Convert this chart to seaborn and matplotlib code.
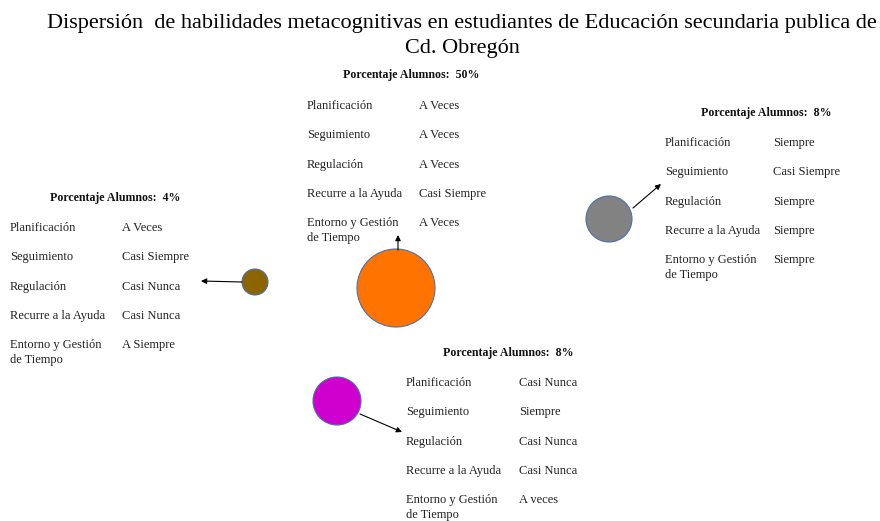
import pandas as pd
import seaborn as sns
import matplotlib.pyplot as plt

# data
CATEGORIES = ["Planificación", "Seguimiento", "Regulación",
              "Recurre a la Ayuda", "Entorno y Gestión\nde Tiempo"]
GROUPS = ["g4", "g50", "g8a", "g8b"]
PERCENT = [4, 50, 8, 8]
ANSWERS_G4 = ["A Veces", "Casi Siempre", "Casi Nunca", "Casi Nunca", "A Siempre"]
ANSWERS_G50 = ["A Veces", "A Veces", "A Veces", "Casi Siempre", "A Veces"]
ANSWERS_G8A = ["Siempre", "Casi Siempre", "Siempre", "Siempre", "Siempre"]
ANSWERS_G8B = ["Casi Nunca", "Siempre", "Casi Nunca", "Casi Nunca", "A veces"]
TITLE = "Dispersión  de habilidades metacognitivas en estudiantes de Educación secundaria publica de\nCd. Obregón"

# layout (pixel coords, y downward)
CIRCLE_POS = {"g4": (255, 282), "g50": (396, 288), "g8a": (609, 219), "g8b": (337, 401)}
CIRCLE_R = {"g4": 13, "g50": 39, "g8a": 23, "g8b": 24}
COLORS = {"g4": "#8a6500", "g50": "#ff7300", "g8a": "#828282", "g8b": "#cf00cf"}
# header center x, header y, label x, value x, first row y
BLOCKS = {"g4": (115, 198, 10, 122, 227), "g50": (411, 75, 307, 419, 105),
          "g8a": (766, 113, 665, 773, 142), "g8b": (508, 353, 406, 519, 382)}
ARROWS = {"g4": ((242, 282), (201, 281)), "g50": ((398, 250), (398, 235)),
          "g8a": ((633, 208), (661, 184)), "g8b": ((360, 414), (402, 432))}
ROW_GAP = 29.3
SERIF = ['Liberation Serif', 'DejaVu Serif']

answers = {"g4": ANSWERS_G4, "g50": ANSWERS_G50, "g8a": ANSWERS_G8A, "g8b": ANSWERS_G8B}

sns.set_theme(style="white")
plt.rcParams['font.family'] = SERIF

fig = plt.figure(figsize=(8.8, 5.21), dpi=100)
ax = fig.add_axes([0, 0, 1, 1])

df = pd.DataFrame({
    "group": GROUPS,
    "pct": PERCENT,
    "x": [CIRCLE_POS[g][0] for g in GROUPS],
    "y": [CIRCLE_POS[g][1] for g in GROUPS],
})
sizes = {g: (1.44 * CIRCLE_R[g]) ** 2 for g in GROUPS}
sns.scatterplot(data=df, x="x", y="y", hue="group", palette=COLORS,
                size="group", sizes=sizes, edgecolor="#4f6fa8", linewidth=0.8,
                legend=False, ax=ax, zorder=3)

for g, pct in zip(GROUPS, PERCENT):
    hx, hy, lx, vx, ry = BLOCKS[g]
    ax.text(hx, hy, f"Porcentaje Alumnos:  {pct}%", ha="center", va="center",
            fontsize=8.6, fontweight="bold", color="#111111", family=SERIF)
    for i, (cat, ans) in enumerate(zip(CATEGORIES, answers[g])):
        y = ry + i * ROW_GAP
        ax.text(lx, y - 5, cat, ha="left", va="top", fontsize=9,
                linespacing=1.3, color="#222222", family=SERIF)
        ax.text(vx, y - 5, ans, ha="left", va="top", fontsize=9,
                color="#222222", family=SERIF)
    (x0, y0), (x1, y1) = ARROWS[g]
    ax.annotate("", xy=(x1, y1), xytext=(x0, y0),
                arrowprops=dict(arrowstyle="-|>", color="black", lw=0.8,
                                mutation_scale=8, shrinkA=0, shrinkB=0))

ax.text(462, 36, TITLE, ha="center", va="center", fontsize=16,
        linespacing=1.4, color="black", family=SERIF)

ax.set_xlim(0, 880)
ax.set_ylim(521, 0)
ax.set_axis_off()

plt.savefig("out.png", dpi=100)
